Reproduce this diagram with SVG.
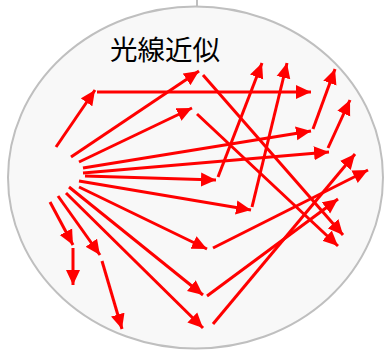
<svg xmlns="http://www.w3.org/2000/svg" width="385" height="351" viewBox="0 0 385 351">
<style>
.ray{stroke:#ff0000;stroke-width:3;fill:none;marker-end:url(#ah)}
.lbl{font-family:"Noto Sans CJK JP","Noto Sans CJK SC",sans-serif;font-size:27.5px;fill:#000}
</style>
<defs>
<marker id="ah" markerUnits="userSpaceOnUse" markerWidth="16" markerHeight="15" refX="15" refY="7" orient="auto" viewBox="0 0 16 14">
<path d="M0,0 L15,7 L0,14 z" fill="#ff0000"/>
</marker>
</defs>
<g id="link-top">
<line x1="197" y1="0" x2="197" y2="7" stroke="#bfbfbf" stroke-width="2"/>
</g>
<g id="region">
<ellipse cx="195.5" cy="177.5" rx="187.5" ry="171" fill="#f8f8f8" stroke="#bfbfbf" stroke-width="2"/>
<text class="lbl" x="165" y="60" text-anchor="middle">光線近似</text>
</g>
<g id="rays">
<line class="ray" x1="56" y1="147" x2="95" y2="90"/>
<line class="ray" x1="97" y1="92" x2="311" y2="92"/>
<line class="ray" x1="71" y1="157" x2="199" y2="71"/>
<line class="ray" x1="79" y1="162" x2="192" y2="108"/>
<line class="ray" x1="203" y1="75" x2="343" y2="235"/>
<line class="ray" x1="197" y1="114" x2="338" y2="246"/>
<line class="ray" x1="83" y1="168" x2="311" y2="131"/>
<line class="ray" x1="83" y1="173" x2="329" y2="152"/>
<line class="ray" x1="85" y1="176" x2="216" y2="180"/>
<line class="ray" x1="79" y1="181" x2="251" y2="210"/>
<line class="ray" x1="79" y1="187" x2="207" y2="249"/>
<line class="ray" x1="69" y1="187" x2="203" y2="295"/>
<line class="ray" x1="66" y1="193" x2="203" y2="328"/>
<line class="ray" x1="58" y1="196" x2="100" y2="255"/>
<line class="ray" x1="50" y1="202" x2="73" y2="245"/>
<line class="ray" x1="73" y1="248" x2="73" y2="285"/>
<line class="ray" x1="102" y1="261" x2="122" y2="329"/>
<line class="ray" x1="218" y1="177" x2="262" y2="63"/>
<line class="ray" x1="252" y1="207" x2="287" y2="63"/>
<line class="ray" x1="313" y1="129" x2="335" y2="69"/>
<line class="ray" x1="328" y1="148" x2="350" y2="100"/>
<line class="ray" x1="213" y1="248" x2="368" y2="170"/>
<line class="ray" x1="207" y1="296" x2="338" y2="199"/>
<line class="ray" x1="213" y1="324" x2="355" y2="154"/>
</g>
</svg>
